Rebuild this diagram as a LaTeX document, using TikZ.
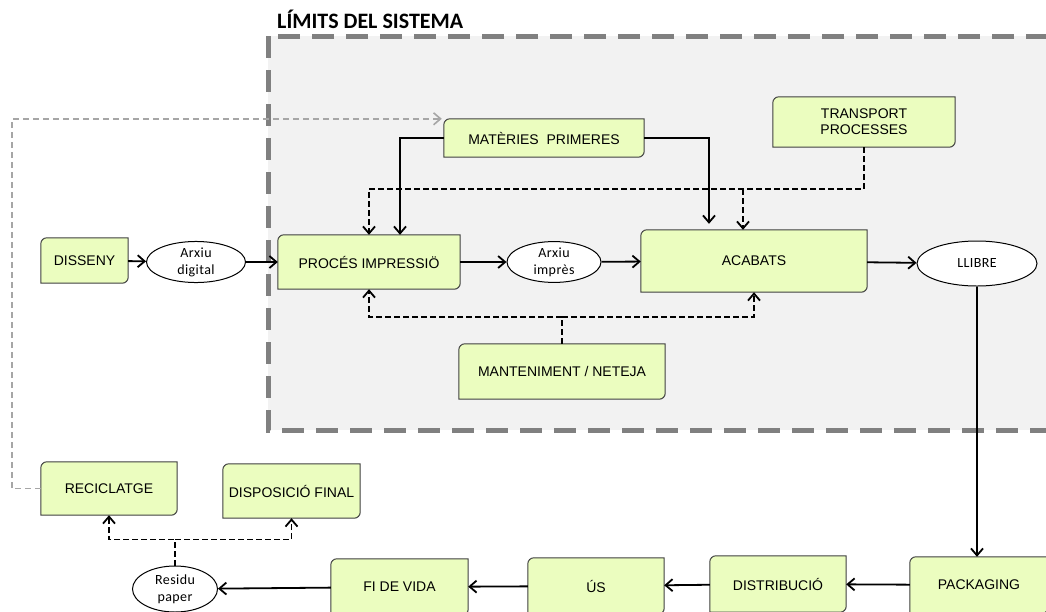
\documentclass[tikz,border=0pt]{standalone}
\usepackage{fontspec}
\setmainfont{Liberation Sans}
\newfontfamily\calfont[LetterSpace=3]{Carlito}
\newfontfamily\titlefont{Carlito}
\usetikzlibrary{arrows.meta,shapes.geometric}
\pgfdeclarelayer{bg}
\pgfsetlayers{bg,main}
\definecolor{stagefill}{RGB}{235,253,191}
\definecolor{stageline}{RGB}{64,64,64}
\definecolor{sysfill}{RGB}{242,242,242}
\definecolor{sysline}{RGB}{128,128,128}
\definecolor{loopgray}{RGB}{166,166,166}
\tikzset{
  stage/.style 2 args={minimum width=#1, minimum height=#2, inner sep=0pt,
    align=center, font=\fontsize{14}{16}\selectfont},
  stageframe/.style={draw=stageline, fill=stagefill, line width=1pt},
  product/.style 2 args={ellipse, draw=black, fill=white, line width=1pt,
    minimum width=#1, minimum height=#2, inner sep=0pt, align=center,
    font=\calfont\fontsize{14}{17}\selectfont},
  flow/.style={line width=1.8pt, -{Straight Barb[length=7pt,width=12pt]}},
  dflow/.style={flow, dash pattern=on 6pt off 3pt},
  loopback/.style={draw=loopgray, line width=1.6pt, dash pattern=on 6pt off 4pt,
    -{Straight Barb[length=7pt,width=12pt]}},
  sysbox/.style={fill=sysfill, draw=sysline, line width=5pt,
    dash pattern=on 22pt off 12pt},
  title/.style={font=\titlefont\bfseries\fontsize{22}{26}\selectfont}
}
\begin{document}
\begin{tikzpicture}[x=1pt, y=-1pt]
\useasboundingbox (0,0) rectangle (1046,611);

% System limits
\begin{pgfonlayer}{bg}
  \draw[sysbox] (268,36) rectangle (1080,430);
\end{pgfonlayer}
\node[title, anchor=base west, inner sep=0pt] (titol) at (277,28) {LÍMITS DEL SISTEMA};

% Main chain
\node[stage={87pt}{45pt}] (dis) at (84.5,260.5) {DISSENY};
\node[product={99pt}{40pt}] (dig) at (196,262) {Arxiu\\digital};
\node[stage={182pt}{54pt}] (proc) at (369,262) {PROCÉS IMPRESSIÖ};
\node[product={94pt}{38pt}] (imp) at (554,262) {Arxiu\\imprès};
\node[stage={226pt}{62pt}] (acab) at (754,261) {ACABATS};
\node[product={120pt}{45pt}] (llib) at (977,263.5) {LLIBRE};

% Inputs
\node[stage={200pt}{38pt}] (mat) at (544,138) {MATÈRIES\ \ PRIMERES};
\node[stage={182pt}{50pt}] (trans) at (864,122) {TRANSPORT\\PROCESSES};
\node[stage={206pt}{55pt}] (mant) at (562,371.5) {MANTENIMENT / NETEJA};

% Life cycle
\node[stage={138pt}{56pt}] (pack) at (979,585) {PACKAGING};
\node[stage={136pt}{56pt}] (distr) at (778,584) {DISTRIBUCIÓ};
\node[stage={136pt}{56pt}] (us) at (596,586) {ÚS};
\node[stage={137pt}{56pt}] (fi) at (399.5,587) {FI DE VIDA};
\node[product={85pt}{46pt}] (res) at (175,589) {Residu\\paper};
\node[stage={136pt}{53pt}] (recic) at (109,488.5) {RECICLATGE};
\node[stage={137pt}{54pt}] (disp) at (291.5,491) {DISPOSICIÓ FINAL};

% Box outlines
\begin{pgfonlayer}{bg}
  \foreach \n in {dis,proc,acab,mat,trans,mant,pack,distr,us,fi,recic,disp}{
    \draw[stageframe] (\n.south west)
      [rounded corners=6pt] -- (\n.north west)
      [sharp corners] -- (\n.north east)
      [rounded corners=6pt] -- (\n.south east)
      [sharp corners] -- cycle;
  }
\end{pgfonlayer}

% Flows
\draw[flow] (dis) -- (dig);
\draw[flow] (dig) -- (proc);
\draw[flow] (proc) -- (imp);
\draw[flow] (imp) -- (acab);
\draw[flow] (acab) -- (llib);
\draw[flow] (llib.south) -- (llib.south |- pack.north);
\draw[flow] (pack) -- (distr);
\draw[flow] (distr) -- (us);
\draw[flow] (us) -- (fi);
\draw[flow] (fi) -- (res);

\draw[flow] (mat.west) -| ([xshift=31pt]proc.north);
\draw[flow] (mat.east) -| ([xshift=-45pt,yshift=6pt]acab.north);

\draw[dflow] (trans.south) -- ++(0,42) coordinate (tbend) -| (proc.north);
\draw[dflow] ([xshift=-11pt]acab.north |- tbend) -- ([xshift=-11pt]acab.north);

\draw[dflow] (mant.north) -- ++(0,-27) coordinate (mbend) -| (proc.south);
\draw[dflow] (mbend) -| (acab.south);

\draw[dflow] (res.north) -- ++(0,-26) coordinate (rbend) -| (recic.south);
\draw[dflow] (rbend) -| (disp.south);

% Recycling loop
\draw[loopback] (recic.west) -- ++(-29,0) |- ([xshift=-2pt]mat.north west);
\end{tikzpicture}
\end{document}
